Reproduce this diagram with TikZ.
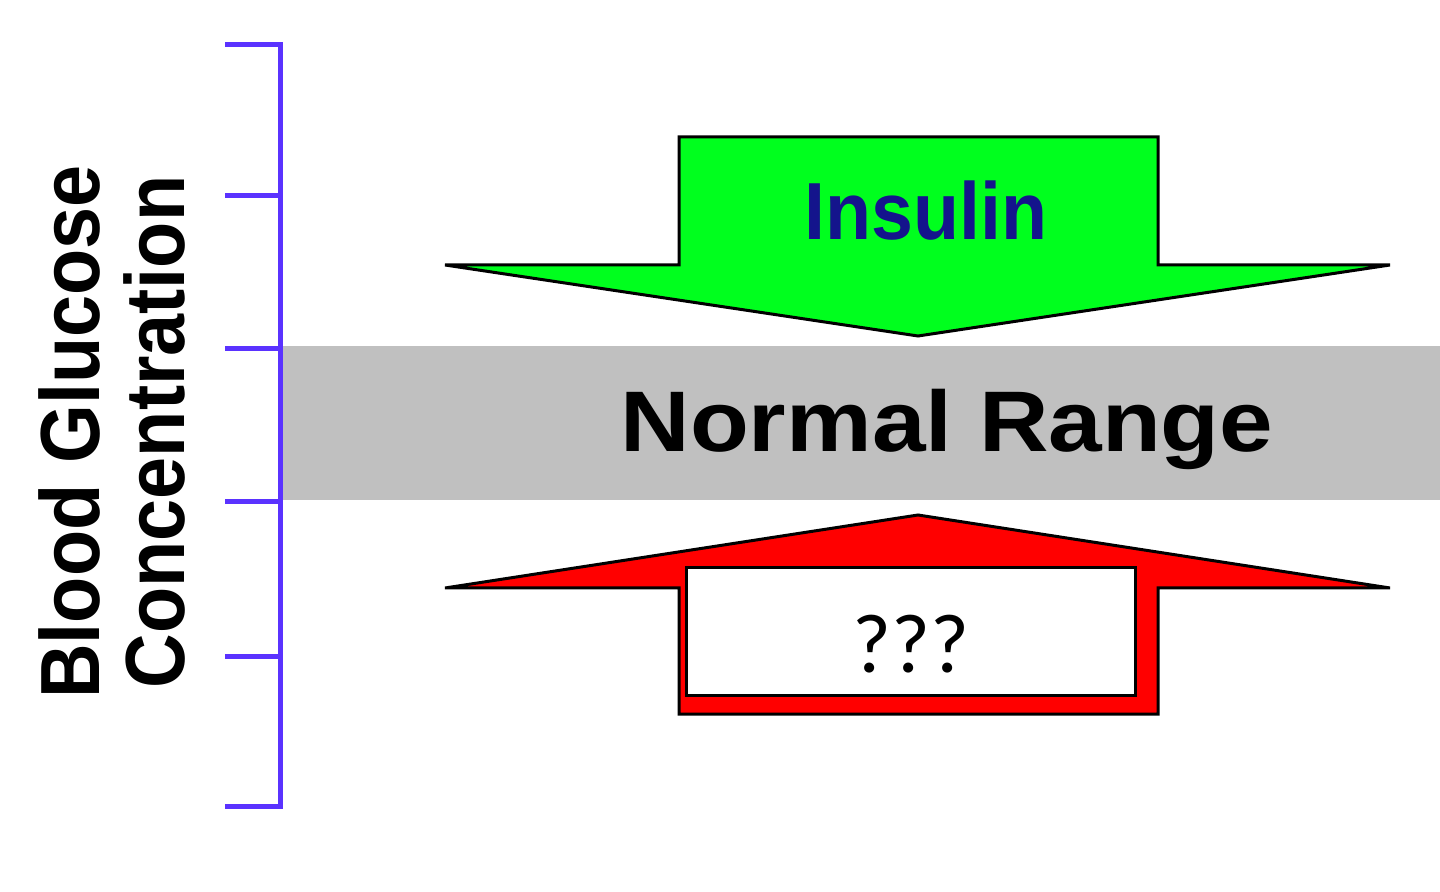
\documentclass[tikz,border=0pt]{standalone}
\usepackage{fontspec}
\setmainfont{Liberation Sans}
\newfontfamily\axisfont[FakeStretch=0.9]{Liberation Sans}
\newfontfamily\rangefont[FakeStretch=1.12]{Liberation Sans}
\newfontfamily\insulinfont[FakeStretch=0.93]{Liberation Sans}
\newfontfamily\unknownfont{Carlito}

\definecolor{insulingreen}{RGB}{0,255,30}
\definecolor{glucagonred}{RGB}{255,0,0}
\definecolor{rangegray}{RGB}{192,192,192}
\definecolor{axisblue}{RGB}{90,50,255}
\definecolor{insulinblue}{RGB}{20,20,140}

\tikzset{
    axisline/.style={draw=axisblue, line width=2.5pt},
    arrowline/.style={draw=black, line width=1.5pt, line join=miter},
    plaintext/.style={inner sep=0pt, anchor=base}
}

\begin{document}
\begin{tikzpicture}[x=0.5pt,y=-0.5pt]

            \useasboundingbox (0,0) rectangle (1440,892);

            % normal range

            \fill[rangegray] (280,346) rectangle (1440,500);

            \node[plaintext, font={\rangefont\bfseries\fontsize{43}{43}\selectfont}]
                (range) at (947,452) {Normal Range};

            % axis

            \draw[axisline] (225,45) -- (280,45) -- (280,806) -- (225,806);
            \foreach \y in {196,349,502,656}
                \draw[axisline] (225,\y) -- (280,\y);

            \node[inner sep=0pt, rotate=90, align=center,
                  font={\axisfont\bfseries\fontsize{42}{42.5}\selectfont}]
                (axislabel) at (112,432) {Blood Glucose\\ Concentration};

            % insulin

            \draw[arrowline, fill=insulingreen] (679,137)
            -- (1158,137)
            -- (1158,265)
            -- (1390,265)
            -- (918,336)
            -- (445,265)
            -- (679,265)
            -- cycle;

            \node[plaintext, text=insulinblue,
                  font={\insulinfont\bfseries\fontsize{40.5}{40.5}\selectfont}]
                (insulin) at (926,240) {Insulin};

            % unknown

            \draw[arrowline, fill=glucagonred] (679,714)
            -- (1158,714)
            -- (1158,588)
            -- (1390,588)
            -- (918,515)
            -- (445,588)
            -- (679,588)
            -- cycle;

            \node[draw=black, line width=1.5pt, fill=white, inner sep=0pt,
                  minimum width=224.5pt, minimum height=63.5pt] (unknownbox) at (910.5,631.5) {};

            \node[plaintext, font={\unknownfont\fontsize{42}{42}\selectfont}]
                (unknown) at (911,672) {???};
        \end{tikzpicture}
\end{document}
